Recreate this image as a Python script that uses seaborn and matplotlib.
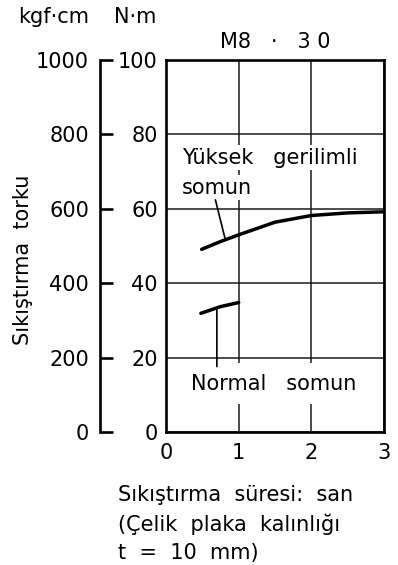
import matplotlib
matplotlib.use("Agg")
import matplotlib.pyplot as plt
import seaborn as sns
import pandas as pd

# ---- data ----
x_high = [0.49, 0.75, 1.0, 1.5, 2.0, 2.5, 3.0]
y_high = [49.1, 51.2, 53.0, 56.4, 58.2, 58.9, 59.2]
x_norm = [0.48, 0.75, 1.0]
y_norm = [31.9, 33.7, 34.8]
nm_ticks = [0, 20, 40, 60, 80, 100]
kgf_ticks = [0, 200, 400, 600, 800, 1000]
x_ticks = [0, 1, 2, 3]
title = "M8   ·   3 0"
label_high = ["Yüksek   gerilimli", "somun"]
label_norm = "Normal   somun"
ylabel = "Sıkıştırma  torku"
xlabel_lines = ["Sıkıştırma  süresi:  san", "(Çelik  plaka  kalınlığı", "t  =  10  mm)"]

sns.set_style("white")
plt.rcParams['font.family'] = ['DejaVu Sans']
plt.rcParams['text.color'] = 'black'
FS = 15

df = pd.concat([
    pd.DataFrame({"t": x_high, "torque": y_high, "kind": "high"}),
    pd.DataFrame({"t": x_norm, "torque": y_norm, "kind": "normal"}),
])

fig = plt.figure(figsize=(3.98, 5.65), dpi=100)
ax = fig.add_axes([166/398, 1-432/565, (384-166)/398, (432-60)/565])

sns.lineplot(data=df, x="t", y="torque", units="kind", estimator=None,
             color="black", lw=2.5, ax=ax, zorder=5, legend=False)

ax.set_xlim(0, 3)
ax.set_ylim(0, 100)
ax.set_xticks(x_ticks)
ax.set_yticks(nm_ticks)
ax.tick_params(axis="both", length=0, labelsize=FS, colors="black")
ax.tick_params(axis="y", pad=6)
ax.tick_params(axis="x", pad=8)
ax.set_xlabel("")
ax.set_ylabel("")
for s in ax.spines.values():
    s.set_linewidth(1.9)
    s.set_color("black")
ax.grid(True, color="#1a1a1a", lw=1.1, zorder=1)
ax.set_axisbelow(True)

ax.set_title(title, fontsize=FS, pad=9, color="black")

# kgf.cm axis
sec = ax.secondary_yaxis((100-166)/(384-166), functions=(lambda v: v*10, lambda v: v/10))
sec.set_yticks(kgf_ticks)
sec.tick_params(direction="in", length=9, width=1.9, labelsize=FS, pad=8, colors="black")
sec.spines["left"].set_linewidth(1.9)
sec.spines["left"].set_color("black")

# text annotations
bb = dict(boxstyle="square,pad=0.12", fc="white", ec="none")
ax.text(0.22, 73.7, label_high[0], fontsize=FS, ha="left", va="center", bbox=bb, zorder=3, color="black")
ax.text(0.22, 65.6, label_high[1], fontsize=FS, ha="left", va="center", bbox=bb, zorder=3, color="black")
ax.text(0.35, 13.0, label_norm, fontsize=FS, ha="left", va="center", color="black",
        bbox=dict(boxstyle="square,pad=0.5", fc="white", ec="none"), zorder=3)
ax.annotate("", xy=(0.81, 52.2), xytext=(0.68, 62.4),
            arrowprops=dict(arrowstyle="-", lw=1.2, color="black", shrinkA=0, shrinkB=0), zorder=4)
ax.annotate("", xy=(0.70, 33.2), xytext=(0.70, 17.6),
            arrowprops=dict(arrowstyle="-", lw=1.2, color="black", shrinkA=0, shrinkB=0), zorder=4)

# units and labels
fig.text(89/398, 1-17/565, "kgf·cm", fontsize=FS, ha="right", va="center", color="black")
fig.text(156/398, 1-17/565, "N·m", fontsize=FS, ha="right", va="center", color="black")
fig.text(23/398, 1-260/565, ylabel, fontsize=FS, rotation=90, ha="center", va="center", color="black")
for i, line in enumerate(xlabel_lines):
    fig.text(118/398, 1-(495+29*i)/565, line, fontsize=FS, ha="left", va="center", color="black")

fig.savefig("out.png", dpi=100)
